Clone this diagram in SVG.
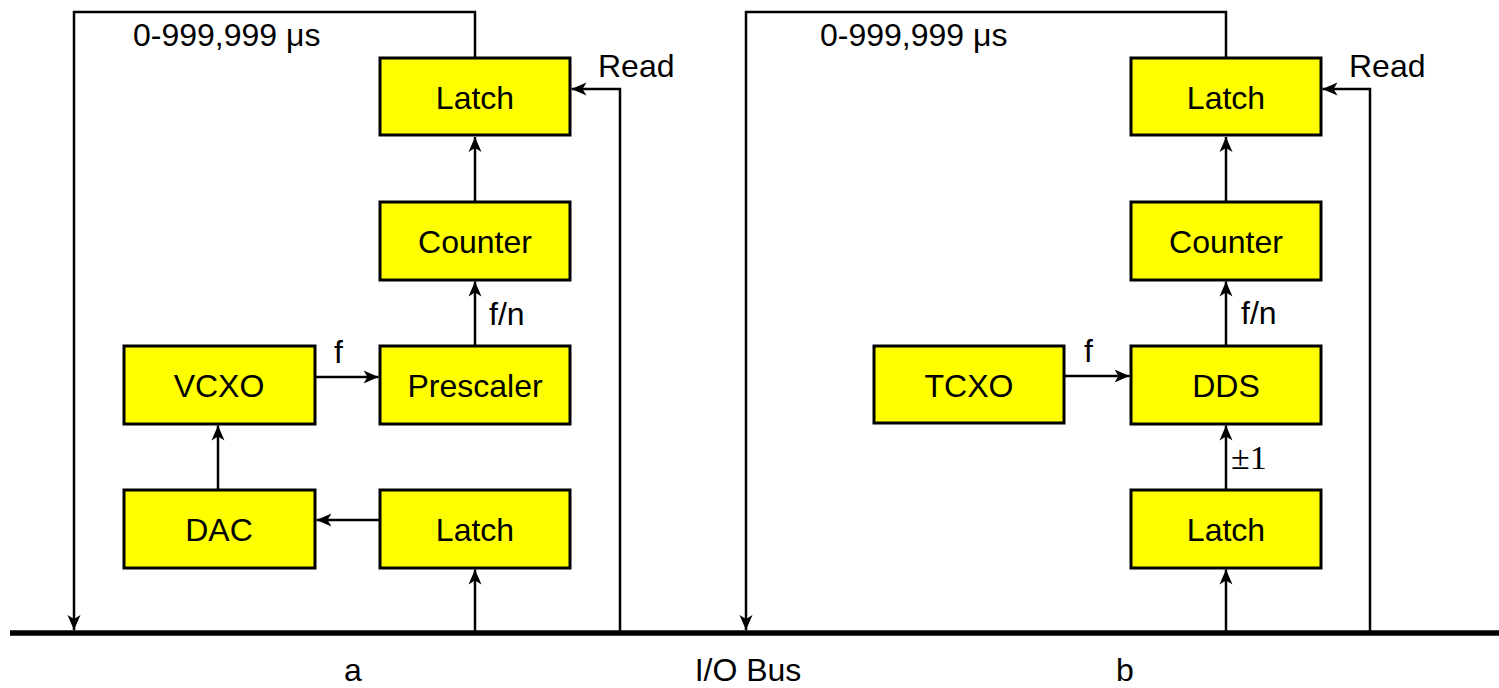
<svg xmlns="http://www.w3.org/2000/svg" width="1499" height="688" viewBox="0 0 1499 688">
<style>
  .box { fill: #ffff00; stroke: #000; stroke-width: 3; }
  .lbl { font-family: "Liberation Sans", Arial, sans-serif; font-size: 32px; fill: #000; }
  .mid { text-anchor: middle; }
  .ser { font-family: "Liberation Serif", "Times New Roman", serif; font-size: 34px; fill: #000; }
  .wire { fill: none; stroke: #000; stroke-width: 2.5; }
  .bus { fill: none; stroke: #000; stroke-width: 5.5; }
</style>
<defs>
  <marker id="ah" markerUnits="userSpaceOnUse" markerWidth="15" markerHeight="14" viewBox="0 0 15 14" refX="15" refY="7" orient="auto">
    <path d="M0,0.5 L15,7 L0,13.5 L4,7 z" fill="#000"/>
  </marker>
</defs>

<g id="connectors">
  <line class="bus" x1="10" y1="633" x2="1499" y2="633"/>
  <!-- panel a -->
  <path class="wire" d="M475,58 V12 H74 V630" marker-end="url(#ah)"/>
  <path class="wire" d="M620,631 V89 H571.5" marker-end="url(#ah)"/>
  <path class="wire" d="M475,202 V137" marker-end="url(#ah)"/>
  <path class="wire" d="M475,346 V281.5" marker-end="url(#ah)"/>
  <path class="wire" d="M315,377 H378.5" marker-end="url(#ah)"/>
  <path class="wire" d="M218,490 V425.5" marker-end="url(#ah)"/>
  <path class="wire" d="M380,520 H316.5" marker-end="url(#ah)"/>
  <path class="wire" d="M475,631 V569.5" marker-end="url(#ah)"/>
  <!-- panel b -->
  <path class="wire" d="M1226,58 V12 H746 V630" marker-end="url(#ah)"/>
  <path class="wire" d="M1370,631 V89 H1322.5" marker-end="url(#ah)"/>
  <path class="wire" d="M1226,202 V137" marker-end="url(#ah)"/>
  <path class="wire" d="M1226,346 V281.5" marker-end="url(#ah)"/>
  <path class="wire" d="M1064,376 H1129.5" marker-end="url(#ah)"/>
  <path class="wire" d="M1226,490 V425.5" marker-end="url(#ah)"/>
  <path class="wire" d="M1226,631 V569.5" marker-end="url(#ah)"/>
</g>

<g id="labels">
  <text class="lbl" x="133" y="46">0-999,999 μs</text>
  <text class="lbl" x="598" y="77">Read</text>
  <text class="lbl" x="489" y="325">f/n</text>
  <text class="lbl" x="334" y="363">f</text>
  <text class="lbl" x="820" y="46">0-999,999 μs</text>
  <text class="lbl" x="1349" y="77">Read</text>
  <text class="lbl" x="1241" y="324">f/n</text>
  <text class="lbl" x="1084" y="362">f</text>
  <text class="ser" x="1231" y="469">±1</text>
  <text class="lbl mid" x="353" y="681">a</text>
  <text class="lbl mid" x="748" y="681">I/O Bus</text>
  <text class="lbl mid" x="1125" y="681">b</text>
</g>

<g id="a-latch-read"><rect class="box" x="380" y="58" width="190" height="77"/><text class="lbl mid" x="475" y="109">Latch</text></g>
<g id="a-counter"><rect class="box" x="380" y="202" width="190" height="78"/><text class="lbl mid" x="475" y="253">Counter</text></g>
<g id="a-vcxo"><rect class="box" x="124" y="346" width="191" height="78"/><text class="lbl mid" x="219" y="397">VCXO</text></g>
<g id="a-prescaler"><rect class="box" x="380" y="346" width="190" height="78"/><text class="lbl mid" x="475" y="397">Prescaler</text></g>
<g id="a-dac"><rect class="box" x="124" y="490" width="191" height="78"/><text class="lbl mid" x="219" y="541">DAC</text></g>
<g id="a-latch-write"><rect class="box" x="380" y="490" width="190" height="78"/><text class="lbl mid" x="475" y="541">Latch</text></g>

<g id="b-latch-read"><rect class="box" x="1131" y="58" width="190" height="77"/><text class="lbl mid" x="1226" y="109">Latch</text></g>
<g id="b-counter"><rect class="box" x="1131" y="202" width="190" height="78"/><text class="lbl mid" x="1226" y="253">Counter</text></g>
<g id="b-tcxo"><rect class="box" x="874" y="346" width="190" height="77"/><text class="lbl mid" x="969" y="397">TCXO</text></g>
<g id="b-dds"><rect class="box" x="1131" y="346" width="190" height="78"/><text class="lbl mid" x="1226" y="397">DDS</text></g>
<g id="b-latch-write"><rect class="box" x="1131" y="490" width="190" height="78"/><text class="lbl mid" x="1226" y="541">Latch</text></g>
</svg>
